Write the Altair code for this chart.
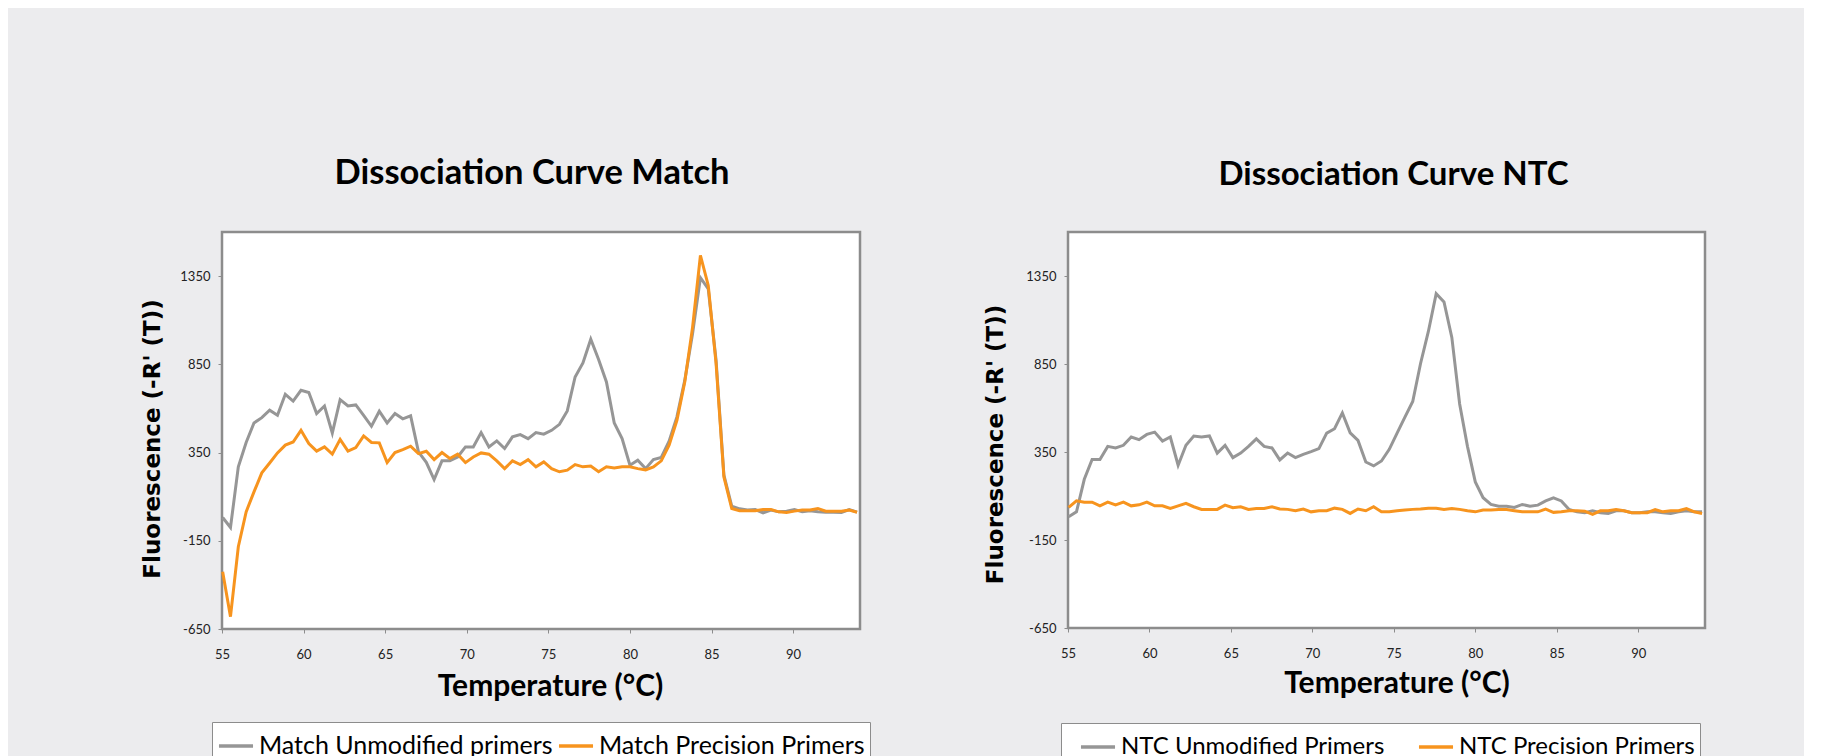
import altair as alt
import pandas as pd

# Temperature grid (°C)
temperature_c = [
    55.04, 55.52, 56.00, 56.48, 56.96, 57.44, 57.92, 58.40, 58.88, 59.36,
    59.84, 60.32, 60.80, 61.28, 61.76, 62.24, 62.72, 63.20, 63.68, 64.16,
    64.64, 65.12, 65.60, 66.08, 66.56, 67.04, 67.52, 68.00, 68.48, 68.96,
    69.44, 69.92, 70.40, 70.88, 71.36, 71.84, 72.32, 72.80, 73.28, 73.76,
    74.24, 74.72, 75.20, 75.68, 76.16, 76.64, 77.12, 77.60, 78.08, 78.56,
    79.04, 79.52, 80.00, 80.48, 80.96, 81.44, 81.92, 82.40, 82.88, 83.36,
    83.84, 84.32, 84.80, 85.28, 85.76, 86.24, 86.72, 87.20, 87.68, 88.16,
    88.64, 89.12, 89.60, 90.08, 90.56, 91.04, 91.52, 92.00, 92.48, 92.96,
    93.44, 93.92,
]

match_unmodified = [
    -18, -75, 269, 407, 518, 548, 590, 561, 680, 642,
    703, 690, 571, 614, 461, 650, 614, 620, 561, 499,
    584, 518, 571, 541, 558, 354, 295, 197, 303, 303,
    325, 382, 382, 463, 382, 416, 373, 439, 452, 429,
    463, 454, 476, 510, 586, 778, 858, 992, 877, 750,
    518, 429, 278, 307, 259, 310, 322, 414, 552, 759,
    1024, 1341, 1278, 873, 222, 46, 31, 24, 27, 8,
    24, 14, 18, 27, 14, 20, 14, 12, 12, 10,
    27, 12,
]
match_precision = [
    -326, -580, -184, 14, 127, 235, 291, 348, 392, 410,
    476, 401, 358, 382, 341, 425, 358, 378, 444, 407,
    405, 293, 350, 367, 386, 344, 357, 310, 350, 316,
    341, 293, 325, 348, 341, 303, 259, 303, 282, 310,
    269, 297, 259, 241, 250, 282, 269, 274, 241, 269,
    263, 269, 269, 259, 252, 269, 303, 392, 533, 750,
    1061, 1467, 1297, 854, 212, 33, 20, 20, 20, 27,
    27, 14, 10, 18, 24, 24, 33, 18, 18, 18,
    24, 12,
]
ntc_unmodified = [
    -18, 10, 195, 307, 307, 382, 373, 388, 435, 420,
    450, 463, 412, 435, 275, 388, 441, 435, 441, 344,
    388, 318, 344, 382, 425, 382, 373, 305, 344, 318,
    337, 352, 369, 457, 482, 572, 459, 416, 293, 271,
    299, 365, 457, 548, 637, 853, 1035, 1250, 1203, 1001,
    623, 382, 180, 90, 52, 42, 42, 35, 52, 42,
    48, 72, 89, 72, 23, 10, 5, 16, 5, 1,
    16, 16, 5, 5, 10, 10, 5, 1, 10, 16,
    10, 10,
]
ntc_precision = [
    35, 73, 65, 65, 44, 65, 50, 65, 44, 50,
    65, 44, 44, 29, 44, 58, 39, 24, 24, 24,
    48, 33, 39, 24, 29, 29, 39, 26, 24, 16,
    26, 10, 16, 16, 31, 24, 1, 26, 16, 39,
    10, 10, 16, 20, 24, 26, 31, 31, 24, 29,
    24, 16, 10, 20, 20, 23, 23, 16, 10, 10,
    10, 25, 7, 10, 16, 16, 14, -5, 16, 16,
    23, 16, 5, 5, 5, 23, 10, 16, 16, 29,
    10, 1,
]

x_ticks = [55, 60, 65, 70, 75, 80, 85, 90]
y_ticks = [-650, -150, 350, 850, 1350]

GRAY = "#969696"
ORANGE = "#f7941e"


def make_panel(title, title_size, names, series_a, series_b, w, h, title_dx,
               xtitle_dx, xtitle_y, ytitle_x, ytitle_dy,
               leg_x, leg_y, sym_off, col_pad, leg_font):
    n = len(temperature_c)
    df = pd.DataFrame({
        "temp": temperature_c + temperature_c,
        "value": series_a + series_b,
        "series": [names[0]] * n + [names[1]] * n,
    })
    color = alt.Color(
        "series:N",
        scale=alt.Scale(domain=names, range=[GRAY, ORANGE]),
        legend=alt.Legend(
            title=None, orient="none", legendX=leg_x, legendY=leg_y,
            direction="horizontal", symbolType="stroke", symbolSize=1160,
            symbolStrokeWidth=3.5, labelFont="Lato", labelFontSize=leg_font,
            labelColor="black", labelLimit=0, labelOffset=4,
            strokeColor="#8c8c8c", fillColor="white", padding=5,
            symbolOffset=sym_off, columnPadding=col_pad,
        ),
    )
    x = alt.X(
        "temp:Q",
        scale=alt.Scale(domain=[55, 94.1], nice=False, zero=False),
        axis=alt.Axis(
            values=x_ticks, title="Temperature (°C)", labelExpr="'' + datum.value",
            labelFlush=False, labelOverlap=False, grid=False, domain=False,
            tickSize=4, tickColor="#8c8c8c", labelPadding=15,
            labelFont="Lato", labelFontSize=13, labelColor="#222222",
            titleFont="Lato", titleFontSize=30, titleFontWeight="bold",
            titleColor="black", titleX=w / 2 + xtitle_dx, titleY=xtitle_y,
            titleBaseline="alphabetic", titleAlign="center",
        ),
    )
    y = alt.Y(
        "value:Q",
        scale=alt.Scale(domain=[-650, 1600], nice=False, zero=False),
        axis=alt.Axis(
            values=y_ticks, title="Fluorescence (-R' (T))", labelExpr="'' + datum.value",
            labelFlush=False, labelOverlap=False, grid=False, domain=False,
            tickSize=4, tickColor="#8c8c8c", labelPadding=8,
            labelFont="Lato", labelFontSize=13, labelColor="#222222",
            titleFont="DejaVu Sans", titleFontSize=23, titleFontWeight="bold",
            titleColor="black", titleX=ytitle_x, titleY=h / 2 + ytitle_dy,
            titleBaseline="alphabetic", titleAngle=270, titleAlign="center",
        ),
    )
    base = alt.Chart(df)
    gray = base.transform_filter(alt.datum.series == names[0]).mark_line(
        strokeWidth=3).encode(x=x, y=y, color=color)
    orange = base.transform_filter(alt.datum.series == names[1]).mark_line(
        strokeWidth=3).encode(x=x, y=y, color=color)
    return alt.layer(gray, orange).properties(
        width=w, height=h,
        title=alt.TitleParams(
            text=title, font="Lato", fontSize=title_size, fontWeight="bold",
            color="black", anchor="middle", baseline="alphabetic",
            offset=14, dx=title_dx, frame="group",
        ),
    )


left = make_panel(
    "Dissociation Curve Match", 34.5,
    ["Match Unmodified primers", "Match Precision Primers"],
    match_unmodified, match_precision, 638, 397, -9,
    9, 66, -63, 8, -10, 490, 0, -2, 25,
)
right = make_panel(
    "Dissociation Curve NTC", 33,
    ["NTC Unmodified Primers", "NTC Precision Primers"],
    ntc_unmodified, ntc_precision, 637, 396, 7,
    10, 64, -66, 14, -7, 491, 13, 19, 24,
)

chart = alt.hconcat(left, right, spacing=110).resolve_scale(color="independent").properties(
    padding={"left": 131, "top": 146, "right": 94, "bottom": 0},
    background="#ececee",
).configure_view(stroke="#8c8c8c", strokeWidth=2.5, fill="white")

chart.save("out.html", embed_options={"renderer": "svg", "actions": False})
